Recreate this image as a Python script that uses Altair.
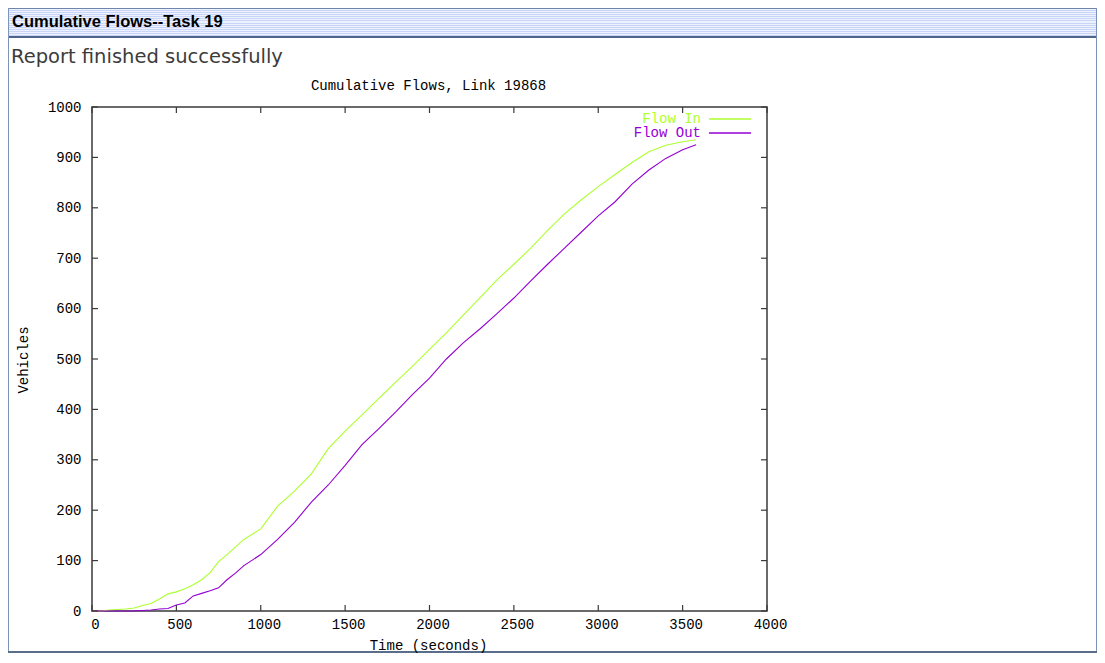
import altair as alt
import pandas as pd

# ---------------- data ----------------
SERIES = ["Flow In", "Flow Out"]
COLORS = ["#adff2f", "#9400d3"]

TIME_IN = [0, 60, 100, 200, 250, 300, 350, 400, 450, 500, 550, 600, 650, 700, 750, 800,
           900, 1000, 1100, 1200, 1300, 1400, 1500, 1600, 1700, 1800, 1900, 2000, 2100,
           2200, 2300, 2400, 2500, 2600, 2700, 2800, 2900, 3000, 3100, 3200, 3300, 3400,
           3500, 3580]
FLOW_IN = [0, 0, 2, 4, 6, 11, 15, 24, 34, 38, 44, 52, 62, 76, 98, 112,
           142, 163, 208, 238, 272, 322, 357, 389, 422, 454, 486, 519, 552,
           587, 622, 657, 688, 720, 755, 788, 816, 842, 866, 890, 911, 924,
           931, 935]

TIME_OUT = [0, 240, 300, 350, 400, 450, 500, 550, 600, 650, 700, 750, 800, 850, 900, 950,
            1000, 1100, 1200, 1300, 1400, 1500, 1600, 1700, 1800, 1900, 2000, 2100, 2200,
            2300, 2400, 2500, 2600, 2700, 2800, 2900, 3000, 3100, 3200, 3300, 3400, 3500,
            3580]
FLOW_OUT = [0, 0, 1, 2, 4, 5, 12, 16, 30, 35, 40, 46, 62, 75, 90, 101,
            112, 142, 176, 216, 250, 289, 330, 362, 395, 430, 462, 500, 532,
            560, 590, 621, 655, 688, 720, 752, 784, 812, 847, 875, 898, 915,
            925]

X_TICKS = [0, 500, 1000, 1500, 2000, 2500, 3000, 3500, 4000]
Y_TICKS = [0, 100, 200, 300, 400, 500, 600, 700, 800, 900, 1000]

HEADER = "Cumulative Flows--Task 19"
STATUS = "Report finished successfully"
TITLE = "Cumulative Flows, Link 19868"
X_TITLE = "Time (seconds)"
Y_TITLE = "Vehicles"

# ---------------- layout ----------------
W, H = 675, 504
PAD_L, PAD_T = 84, 99
TOTAL_W, TOTAL_H = 1089, 645
PAD_R = TOTAL_W - PAD_L - W
PAD_B = TOTAL_H - PAD_T - H
LEFT = -PAD_L
RIGHT = TOTAL_W - PAD_L
TOP = -PAD_T
BOTTOM = TOTAL_H - PAD_T

MONO = "Liberation Mono"
FS = 14
AX = "#3a3a3a"

lines_df = pd.concat([
    pd.DataFrame({"t": TIME_IN, "v": FLOW_IN, "series": SERIES[0]}),
    pd.DataFrame({"t": TIME_OUT, "v": FLOW_OUT, "series": SERIES[1]}),
], ignore_index=True)

x_scale = alt.Scale(domain=[0, 4000], nice=False, zero=False)
y_scale = alt.Scale(domain=[0, 1000], nice=False, zero=False)

X_AXIS = alt.Axis(values=X_TICKS, title=None, ticks=False, tickSize=0, domain=False,
                  grid=False, labelFont=MONO, labelFontSize=FS, labelColor="#000000",
                  labelPadding=17, labelBaseline="alphabetic", labelAlign="center",
                  labelOffset=3, labelFlush=False, labelOverlap=False, format="d")
Y_AXIS = alt.Axis(values=Y_TICKS, title=None, ticks=False, tickSize=0, domain=False,
                  grid=False, labelFont=MONO, labelFontSize=FS, labelColor="#000000",
                  labelPadding=11, labelBaseline="middle", labelAlign="right",
                  labelFlush=False, labelOverlap=False, format="d")

one = pd.DataFrame({"k": [0]})

# ---------------- page frame ----------------
stops = []
n = 15
for i in range(n):
    a, b = i / n, (i + 0.5) / n
    c = (i + 1) / n
    stops += [alt.GradientStop(offset=a, color="#c9d5f8"),
              alt.GradientStop(offset=b, color="#c9d5f8"),
              alt.GradientStop(offset=b, color="#eef2ff"),
              alt.GradientStop(offset=c, color="#eef2ff")]
stripes = alt.Gradient(gradient="linear", stops=stops, x1=0, x2=0, y1=0, y2=1)

header = alt.Chart(one).mark_rect(fill=stripes, strokeWidth=0).encode(
    x=alt.value(LEFT), x2=alt.value(RIGHT), y=alt.value(TOP), y2=alt.value(-70))
header_top = alt.Chart(one).mark_rule(color="#6f86aa", strokeWidth=1).encode(
    x=alt.value(LEFT), x2=alt.value(RIGHT), y=alt.value(TOP + 0.5))
header_bot = alt.Chart(one).mark_rect(color="#4e6589").encode(
    x=alt.value(LEFT), x2=alt.value(RIGHT), y=alt.value(-71), y2=alt.value(-69))
left_b = alt.Chart(one).mark_rule(color="#7d95b8", strokeWidth=1).encode(
    x=alt.value(LEFT + 0.5), y=alt.value(TOP), y2=alt.value(BOTTOM))
right_b = alt.Chart(one).mark_rule(color="#7d95b8", strokeWidth=1).encode(
    x=alt.value(RIGHT - 0.5), y=alt.value(TOP), y2=alt.value(BOTTOM))
bottom_b = alt.Chart(one).mark_rect(color="#5a6e8c").encode(
    x=alt.value(LEFT), x2=alt.value(RIGHT), y=alt.value(BOTTOM - 2), y2=alt.value(BOTTOM))

header_txt = alt.Chart(one).mark_text(
    font="Liberation Sans", fontWeight="bold", fontSize=16.5, align="left",
    baseline="alphabetic", color="#000000").encode(
    x=alt.value(LEFT + 4), y=alt.value(27 - PAD_T - 8), text=alt.value(HEADER))
status_txt = alt.Chart(one).mark_text(
    font="DejaVu Sans", fontSize=19.5, align="left", baseline="alphabetic",
    color="#3c3c3c").encode(
    x=alt.value(LEFT + 3), y=alt.value(63 - PAD_T - 8), text=alt.value(STATUS))

# ---------------- chart ----------------
title_txt = alt.Chart(one).mark_text(
    font=MONO, fontSize=FS, align="center", baseline="alphabetic", color="#000000").encode(
    x=alt.value(W / 2 - 1), y=alt.value(-17), text=alt.value(TITLE))
xtitle_txt = alt.Chart(one).mark_text(
    font=MONO, fontSize=FS, align="center", baseline="alphabetic", color="#000000").encode(
    x=alt.value(W / 2 - 1), y=alt.value(H + 39), text=alt.value(X_TITLE))
ytitle_txt = alt.Chart(one).mark_text(
    font=MONO, fontSize=FS, align="center", baseline="middle", angle=270,
    color="#000000").encode(
    x=alt.value(-68), y=alt.value(H / 2 + 1), text=alt.value(Y_TITLE))

xt = pd.DataFrame({"t": X_TICKS})
yt = pd.DataFrame({"v": Y_TICKS})
tick_style = dict(color=AX, strokeWidth=1.2)
bottom_ticks = alt.Chart(xt).mark_rule(**tick_style).encode(
    x=alt.X("t:Q", scale=x_scale, axis=X_AXIS), y=alt.value(H), y2=alt.value(H - 6))
top_ticks = alt.Chart(xt).mark_rule(**tick_style).encode(
    x=alt.X("t:Q", scale=x_scale, axis=X_AXIS), y=alt.value(0), y2=alt.value(6))
left_ticks = alt.Chart(yt).mark_rule(**tick_style).encode(
    y=alt.Y("v:Q", scale=y_scale, axis=Y_AXIS), x=alt.value(0), x2=alt.value(6))
right_ticks = alt.Chart(yt).mark_rule(**tick_style).encode(
    y=alt.Y("v:Q", scale=y_scale, axis=Y_AXIS), x=alt.value(W), x2=alt.value(W - 6))

lines = alt.Chart(lines_df).mark_line(strokeWidth=1.1).encode(
    x=alt.X("t:Q", scale=x_scale, axis=X_AXIS),
    y=alt.Y("v:Q", scale=y_scale, axis=Y_AXIS),
    color=alt.Color("series:N", scale=alt.Scale(domain=SERIES, range=COLORS), legend=None),
    detail="series:N",
)

legend_layers = []
for i, (name, col) in enumerate(zip(SERIES, COLORS)):
    yy = 12 + 14 * i
    legend_layers.append(alt.Chart(one).mark_text(
        font=MONO, fontSize=FS, align="right", baseline="middle", color=col).encode(
        x=alt.value(609), y=alt.value(yy), text=alt.value(name)))
    legend_layers.append(alt.Chart(one).mark_rule(color=col, strokeWidth=1.3).encode(
        x=alt.value(617), x2=alt.value(659), y=alt.value(yy)))

chart = alt.layer(
    header, header_top, header_bot, left_b, right_b, bottom_b, header_txt, status_txt,
    title_txt, xtitle_txt, ytitle_txt,
    lines, bottom_ticks, top_ticks, left_ticks, right_ticks, *legend_layers,
).properties(
    width=W, height=H,
    autosize=alt.AutoSizeParams(type="none"),
    padding={"left": PAD_L, "top": PAD_T, "right": PAD_R, "bottom": PAD_B},
).configure(
    background="#ffffff"
).configure_view(
    stroke=AX, strokeWidth=1.5
)

chart.save("out.html", embed_options={"renderer": "svg", "actions": False})
